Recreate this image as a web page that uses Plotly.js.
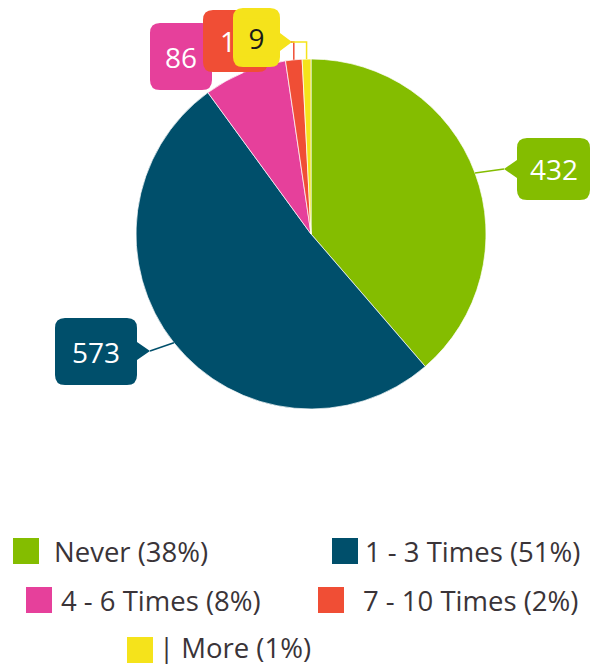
<!DOCTYPE html>
<html>
<head>
<meta charset="utf-8">
<script src="https://cdn.plot.ly/plotly-3.0.1.min.js"></script>
<style>
  html, body { margin: 0; padding: 0; background: #ffffff; }
  #chart { width: 592px; height: 664px; }
</style>
</head>
<body>
<div id="chart"></div>
<script>
// ---- data ----
const categories = ["Never", "1 - 3 Times", "4 - 6 Times", "7 - 10 Times", "| More"];
const counts = [432, 573, 86, 17, 9];
const percents = [38, 51, 8, 2, 1];
const labelTexts = ["432", "573", "86", "17", "9"];
const colors = ["#84bd00", "#004f6b", "#e6409b", "#f04e35", "#f5e31b"];
const labelFontColors = ["#ffffff", "#ffffff", "#ffffff", "#ffffff", "#1a1a1a"];

// ---- layout constants (pixels) ----
const W = 592, H = 664;
const CX = 311, CY = 234, R = 175;
const FONT = "'Open Sans', 'Liberation Sans', sans-serif";

function px(x) { return x / W; }
function py(y) { return 1 - y / H; }
function pt(x, y) { return px(x).toFixed(5) + "," + py(y).toFixed(5); }

// slice mid-angle anchors on the rim (computed from data)
const total = counts.reduce((a, b) => a + b, 0);
let cum = 0;
const anchors = counts.map(v => {
  const mid = (cum + v / 2) / total * 2 * Math.PI;
  cum += v;
  return [CX + R * Math.sin(mid), CY - R * Math.cos(mid)];
});

// callout boxes (placement only); "cover" = opaque label background that hides labels beneath
const boxes = [
  { l: 517, t: 138, r: 590, b: 200, side: "left",  tip: [504, 169], elbow: false },
  { l: 55,  t: 318, r: 137, b: 385, side: "right", tip: [150, 351], elbow: false },
  { l: 150, t: 23,  r: 212, b: 90,  side: "right", tip: [222, 62],  elbow: false },
  { l: 203, t: 10,  r: 268, b: 72,  side: "right", tip: [278, 42],  elbow: true },
  { l: 233, t: 8,   r: 280, b: 67,  side: "right", tip: [292, 42],  elbow: true, cover: true }
];

function boxPath(b) {
  const rr = 10, h = 9;
  const [tx, ty] = b.tip;
  let p = "M" + pt(b.l + rr, b.t);
  p += " L" + pt(b.r - rr, b.t);
  p += " Q" + pt(b.r, b.t) + " " + pt(b.r, b.t + rr);
  if (b.side === "right") {
    p += " L" + pt(b.r, ty - h) + " L" + pt(tx, ty) + " L" + pt(b.r, ty + h);
  }
  p += " L" + pt(b.r, b.b - rr);
  p += " Q" + pt(b.r, b.b) + " " + pt(b.r - rr, b.b);
  p += " L" + pt(b.l + rr, b.b);
  p += " Q" + pt(b.l, b.b) + " " + pt(b.l, b.b - rr);
  if (b.side === "left") {
    p += " L" + pt(b.l, ty + h) + " L" + pt(tx, ty) + " L" + pt(b.l, ty - h);
  }
  p += " L" + pt(b.l, b.t + rr);
  p += " Q" + pt(b.l, b.t) + " " + pt(b.l + rr, b.t);
  p += " Z";
  return p;
}

const shapes = [];
const annotations = [];

boxes.forEach((b, i) => {
  const [ax, ay] = anchors[i];
  const [tx, ty] = b.tip;
  let line = "M" + pt(tx, ty);
  if (b.elbow) line += " L" + pt(ax, ty);
  line += " L" + pt(ax, ay);
  shapes.push({ type: "path", xref: "paper", yref: "paper", path: line,
    line: { color: colors[i], width: 1.5 }, layer: "above" });
  shapes.push({ type: "path", xref: "paper", yref: "paper", path: boxPath(b),
    fillcolor: colors[i], line: { width: 0 }, layer: "above" });
  const ann = {
    xref: "paper", yref: "paper",
    x: px((b.l + b.r) / 2), y: py((b.t + b.b) / 2),
    xanchor: "center", yanchor: "middle",
    text: labelTexts[i], showarrow: false,
    font: { family: FONT, size: 28, color: labelFontColors[i] }
  };
  if (b.cover) {
    ann.bgcolor = colors[i];
    ann.width = b.r - b.l - 6;
    ann.height = b.b - b.t - 22;
    ann.borderpad = 0;
  }
  annotations.push(ann);
});

// custom legend (placement only)
const legendPos = [
  { sx: 13,  sy: 538, tx: 53 },
  { sx: 332, sy: 538, tx: 364 },
  { sx: 26,  sy: 587, tx: 60 },
  { sx: 318, sy: 587, tx: 362 },
  { sx: 127, sy: 637, tx: 158 }
];
const SW = 26;
legendPos.forEach((p, i) => {
  shapes.push({ type: "rect", xref: "paper", yref: "paper",
    x0: px(p.sx), x1: px(p.sx + SW), y0: py(p.sy + SW), y1: py(p.sy),
    fillcolor: colors[i], line: { width: 0 } });
  annotations.push({
    xref: "paper", yref: "paper",
    x: px(p.tx), y: py(p.sy + SW / 2 - (i === 4 ? 3 : 0)),
    xanchor: "left", yanchor: "middle", borderpad: 0,
    text: categories[i] + " (" + percents[i] + "%)", showarrow: false,
    font: { family: FONT, size: 27.5, color: "#3a3438" }
  });
});

const trace = {
  type: "pie",
  labels: categories,
  values: counts,
  sort: false,
  direction: "clockwise",
  rotation: 0,
  textinfo: "none",
  hoverinfo: "label+value",
  showlegend: false,
  marker: { colors: colors, line: { color: "#ffffff", width: 0.7 } },
  domain: { x: [px(CX - R), px(CX + R)], y: [py(CY + R), py(CY - R)] }
};

const layout = {
  width: W, height: H,
  margin: { l: 0, r: 0, t: 0, b: 0 },
  paper_bgcolor: "#ffffff",
  showlegend: false,
  shapes: shapes,
  annotations: annotations
};

Plotly.newPlot("chart", [trace], layout, { displayModeBar: false, staticPlot: true });
</script>
</body>
</html>
